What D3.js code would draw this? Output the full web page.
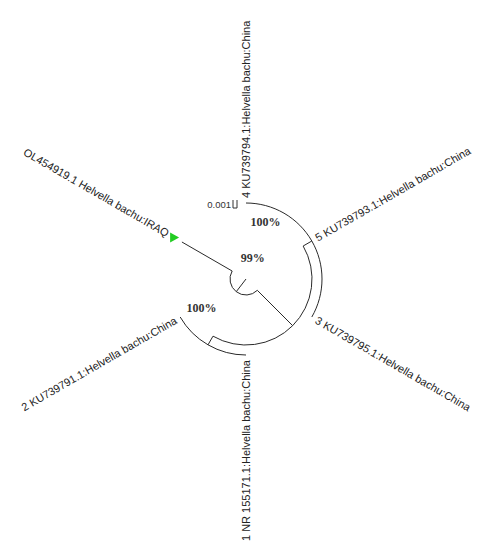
<!DOCTYPE html>
<html>
<head>
<meta charset="utf-8">
<script src="https://cdn.jsdelivr.net/npm/d3@7"></script>
<style>
  body { margin: 0; background: #fff; }
</style>
</head>
<body>
<div id="chart"></div>
<script>
// tree as flat tables (node, parent, branch length)
var nodeIds   = ["root", "ingroup", "cladeA", "t4", "t5", "t3", "cladeB", "t1", "t2", "tOL"];
var parentIds = ["", "root", "ingroup", "cladeA", "cladeA", "cladeA", "ingroup", "cladeB", "cladeB", "root"];
var branchLen = [0.004, 0.0125, 0.0025, 0, 0, 0, 0.0025, 0, 0, 0.0145];
var taxa = ["", "", "",
    "4 KU739794.1:Helvella bachu:China",
    "5 KU739793.1:Helvella bachu:China",
    "3 KU739795.1:Helvella bachu:China",
    "",
    "1 NR 155171.1:Helvella bachu:China",
    "2 KU739791.1:Helvella bachu:China",
    "OL454919.1 Helvella bachu:IRAQ"];
var support = ["", "99%", "100%", "", "", "", "100%", "", "", ""];
var markedTaxon = "tOL";
var scaleBarValue = 0.001;

var width = 477, height = 545;
var cx = 246, cy = 279;

// where MEGA put the support labels (angle deg, radius px)
var supportPos = { ingroup: [288, 22], cladeA: [289, 60], cladeB: [147, 53] };

var table = nodeIds.map(function(id, i) {
    return { id: id, parent: parentIds[i], len: branchLen[i], name: taxa[i], boot: support[i] };
});

var root = d3.stratify()
    .id(function(d) { return d.id; })
    .parentId(function(d) { return d.parent || null; })(table);

// cumulative distance from center
root.each(function(d) {
    d.dist = (d.parent ? d.parent.dist : 0) + d.data.len;
});

var leaves = root.leaves();
var angle = d3.scaleLinear().domain([0, leaves.length]).range([270, 630]);
var r = d3.scaleLinear().domain([0, 0.019]).range([0, 76]);

leaves.forEach(function(d, i) { d.angle = angle(i); });
root.eachAfter(function(d) {
    if (d.children) {
        d.angle = (d.children[0].angle + d.children[d.children.length - 1].angle) / 2;
    }
});

function rad(a) { return a * Math.PI / 180; }
function px(a, rr) { return cx + rr * Math.cos(rad(a)); }
function py(a, rr) { return cy + rr * Math.sin(rad(a)); }

var svg = d3.select("#chart").append("svg")
    .attr("width", width)
    .attr("height", height);

svg.append("rect").attr("width", width).attr("height", height).attr("fill", "#fff");

var g = svg.append("g");

// radial branches
root.each(function(d) {
    var r0 = d.parent ? r(d.parent.dist) : 0;
    var r1 = r(d.dist);
    if (r1 - r0 < 0.1) return;
    g.append("line")
        .attr("x1", px(d.angle, r0)).attr("y1", py(d.angle, r0))
        .attr("x2", px(d.angle, r1)).attr("y2", py(d.angle, r1))
        .attr("stroke", "#2a2a2a")
        .attr("stroke-width", 1);
});

// node arcs
root.each(function(d) {
    if (!d.children) return;
    var a0 = d.children[0].angle, a1 = d.children[d.children.length - 1].angle;
    var p = d3.path();
    p.arc(cx, cy, r(d.dist), rad(a0), rad(a1), false);
    g.append("path")
        .attr("d", p.toString())
        .attr("fill", "none")
        .attr("stroke", "#2a2a2a")
        .attr("stroke-width", 1);
});

// taxon labels
leaves.forEach(function(d) {
    var a = ((d.angle % 360) + 360) % 360;
    var flip = a >= 90 && a < 270;
    var lr = r(d.dist) + 5;
    if (d.id === markedTaxon) {
        var mr = r(d.dist) + 9;
        var mx = px(a, mr), my = py(a, mr);
        g.append("path")
            .attr("d", "M" + (mx - 4) + "," + (my - 5) + "L" + (mx + 5) + "," + my + "L" + (mx - 4) + "," + (my + 5) + "Z")
            .attr("fill", "#22cc22");
        lr = r(d.dist) + 16;
    }
    g.append("text")
        .attr("transform", "translate(" + cx + "," + cy + ") rotate(" + a + ") translate(" + lr + ",0)" + (flip ? " rotate(180)" : ""))
        .attr("text-anchor", flip ? "end" : "start")
        .attr("dy", "0.35em")
        .attr("font-family", "Liberation Sans, Arial, sans-serif")
        .attr("font-size", 11)
        .attr("fill", "#222")
        .text(d.data.name);
});

// support values
root.each(function(d) {
    if (!d.data.boot) return;
    var pos = supportPos[d.id];
    g.append("text")
        .attr("x", px(pos[0], pos[1]))
        .attr("y", py(pos[0], pos[1]))
        .attr("dy", "0.35em")
        .attr("text-anchor", "middle")
        .attr("font-family", "Liberation Serif, Times New Roman, serif")
        .attr("font-weight", "bold")
        .attr("font-size", 12)
        .attr("fill", "#333")
        .text(d.data.boot);
});

// scale bar
var sbLen = r(scaleBarValue) - r(0);
var sbx = 233, sby = 208;
g.append("path")
    .attr("d", "M" + sbx + "," + (sby - 8) + "V" + sby + "H" + (sbx + sbLen) + "V" + (sby - 8))
    .attr("fill", "none")
    .attr("stroke", "#333")
    .attr("stroke-width", 1);
g.append("text")
    .attr("x", sbx - 2)
    .attr("y", sby)
    .attr("text-anchor", "end")
    .attr("font-family", "Liberation Sans, Arial, sans-serif")
    .attr("font-size", 9.5)
    .attr("fill", "#333")
    .text(scaleBarValue);
</script>
</body>
</html>
